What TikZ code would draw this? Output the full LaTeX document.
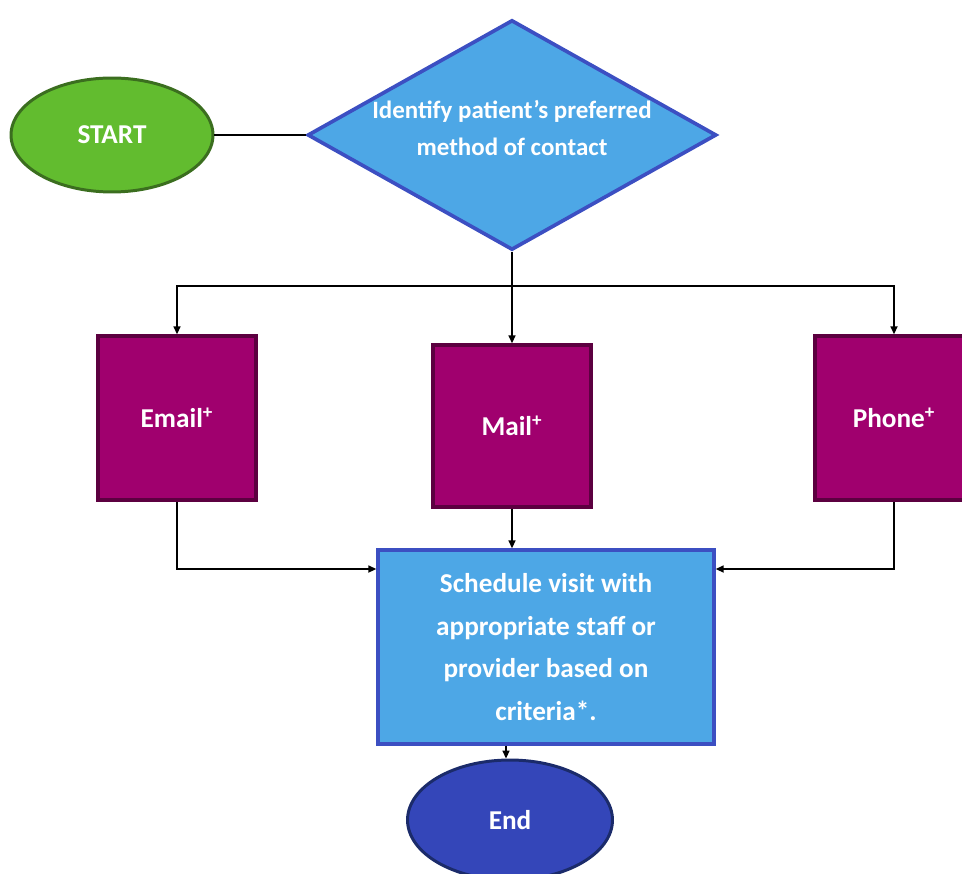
\documentclass[tikz,border=0pt]{standalone}
\usepackage{fontspec}
\setmainfont{Carlito}
\usetikzlibrary{shapes.geometric,arrows.meta}

\definecolor{startfill}{HTML}{62BC2F}
\definecolor{startline}{HTML}{3B6E1F}
\definecolor{skyfill}{HTML}{4DA7E6}
\definecolor{skyline}{HTML}{3C4FC2}
\definecolor{plumfill}{HTML}{A0006E}
\definecolor{plumline}{HTML}{5C0040}
\definecolor{endfill}{HTML}{3446B9}
\definecolor{endline}{HTML}{1B2B6A}

\tikzset{
	flowtext/.style={text=white, align=center, inner sep=0pt, font=\bfseries\fontsize{15.5}{21}\selectfont},
	terminal/.style={flowtext, ellipse, line width=1.7pt},
	choice/.style={flowtext, diamond, aspect=1.78, draw=skyline, fill=skyfill, line width=2.1pt, font=\bfseries\fontsize{14.2}{21}\selectfont, text depth=0.3cm},
	channel/.style={flowtext, rectangle, draw=plumline, fill=plumfill, line width=2pt, minimum width=3.16cm},
	task/.style={flowtext, rectangle, draw=skyline, fill=skyfill, line width=2pt, font=\bfseries\fontsize{15.5}{24.4}\selectfont},
	link/.style={line width=0.85pt, -{Triangle[length=4.5pt,width=4pt]}}
}

\begin{document}
\begin{tikzpicture}[x=0.02cm, y=-0.02cm]
		\useasboundingbox (0, 0) rectangle (962, 874);
		
		\node[terminal, draw=startline, fill=startfill, minimum width=4.04cm, minimum height=2.28cm] (start) at (112, 135) {START};
		\node[choice, minimum width=8.18cm, minimum height=4.6cm] (contact) at (512, 135) {Identify patient’s preferred\\method of contact};
		
		\node[channel, minimum height=3.28cm] (email) at (177, 418) {Email\textsuperscript{+}};
		\node[channel, minimum height=3.24cm] (mail) at (512, 426) {Mail\textsuperscript{+}};
		\node[channel, minimum height=3.28cm] (phone) at (894, 418) {Phone\textsuperscript{+}};
		
		\node[task, minimum width=6.72cm, minimum height=3.88cm] (visit) at (546, 647) {Schedule visit with\\appropriate staff or\\provider based on\\criteria*.};
		\node[terminal, draw=endline, fill=endfill, minimum width=4.1cm, minimum height=2.4cm] (finish) at (510, 820) {End};
		
		\coordinate (fork) at (512, 286);
		
		\draw[line width=0.85pt] (start.east) -- (contact.west);
		\draw[link] (contact.south) -- (mail.north);
		\draw[link] (fork) -| (email.north);
		\draw[link] (fork) -| (phone.north);
		
		\draw[link] (email.south) |- ([yshift=1.56cm]visit.west);
		\draw[link] (mail.south) -- (mail.south |- visit.north);
		\draw[link] (phone.south) |- ([yshift=1.56cm]visit.east);
		\draw[link] (visit.south -| 506, 0) -- (finish.north -| 506, 0);
	\end{tikzpicture}
\end{document}
